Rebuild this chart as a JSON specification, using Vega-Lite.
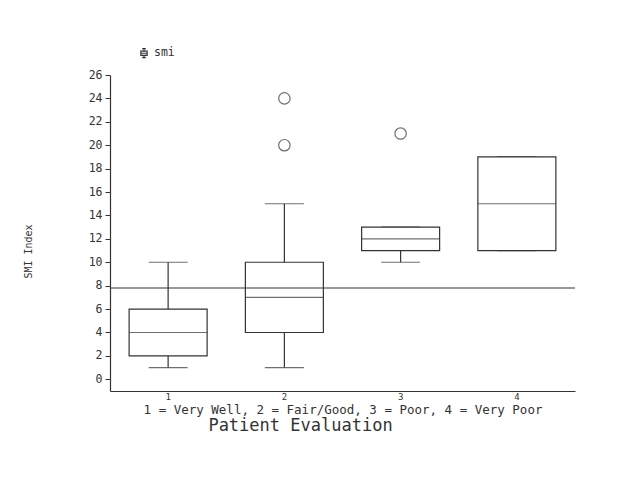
{
  "$schema": "https://vega.github.io/schema/vega-lite/v6.json",
  "autosize": {"type": "none"},
  "width": 465,
  "height": 316,
  "padding": {"left": 110, "top": 75, "right": 61, "bottom": 93},
  "background": "white",
  "config": {
    "view": {"stroke": null},
    "font": "DejaVu Sans Mono",
    "axis": {"labelFont": "DejaVu Sans Mono", "titleFont": "DejaVu Sans Mono", "labelColor": "#333", "titleColor": "#333", "domainColor": "#333", "tickColor": "#333", "grid": false, "titleFontWeight": "normal"},
    "axisY": {"labelOverlap": false, "labelSeparation": 0}
  },
  "title": {"text": "Patient Evaluation", "orient": "bottom", "font": "DejaVu Sans Mono", "fontSize": 17, "fontWeight": "normal", "color": "#333", "offset": 2, "dx": -42},
  "datasets": {
    "boxes": [
      {"group": "1", "lo": 1, "q1": 2, "med": 4, "q3": 6, "hi": 10},
      {"group": "2", "lo": 1, "q1": 4, "med": 7, "q3": 10, "hi": 15},
      {"group": "3", "lo": 10, "q1": 11, "med": 12, "q3": 13, "hi": 13},
      {"group": "4", "lo": 11, "q1": 11, "med": 15, "q3": 19, "hi": 19}
    ],
    "outliers": [
      {"group": "2", "value": 20},
      {"group": "2", "value": 24},
      {"group": "3", "value": 21}
    ]
  },
  "layer": [
    {
      "data": {"name": "boxes"},
      "mark": {"type": "rule", "color": "#333", "strokeWidth": 1.2},
      "encoding": {
        "x": {"field": "group", "type": "ordinal", "scale": {"type": "band", "domain": ["1", "2", "3", "4"], "paddingInner": 0, "paddingOuter": 0},
          "axis": {"title": "1 = Very Well, 2 = Fair/Good, 3 = Poor, 4 = Very Poor", "titleFontSize": 12.5, "labelFontSize": 9, "labelAngle": 0, "ticks": false, "labelPadding": 1, "titlePadding": 2, "domainWidth": 1.2}},
        "y": {"field": "lo", "type": "quantitative", "scale": {"domain": [-1, 26], "nice": false, "zero": false},
          "axis": {"title": "SMI Index", "values": [0, 2, 4, 6, 8, 10, 12, 14, 16, 18, 20, 22, 24, 26], "tickCount": 30, "labelOverlap": false, "labelFontSize": 11.5, "titleFontSize": 10, "tickSize": 5, "labelPadding": 3, "titleX": -77, "titleY": 176, "domainWidth": 1.2}},
        "y2": {"field": "hi"}
      }
    },
    {
      "data": {"name": "boxes"},
      "mark": {"type": "tick", "color": "#333", "size": 39, "thickness": 1.2},
      "encoding": {"x": {"field": "group", "type": "ordinal"}, "y": {"field": "lo", "type": "quantitative"}}
    },
    {
      "data": {"name": "boxes"},
      "mark": {"type": "tick", "color": "#333", "size": 39, "thickness": 1.2},
      "encoding": {"x": {"field": "group", "type": "ordinal"}, "y": {"field": "hi", "type": "quantitative"}}
    },
    {
      "data": {"name": "boxes"},
      "mark": {"type": "bar", "fill": "white", "width": 78, "strokeWidth": 1.2},
      "encoding": {
        "x": {"field": "group", "type": "ordinal"},
        "y": {"field": "q1", "type": "quantitative"},
        "y2": {"field": "q3"},
        "stroke": {"datum": "smi", "scale": {"domain": ["smi"], "range": ["#333"]},
          "legend": {"title": null, "orient": "none", "legendX": 28, "legendY": -28, "labelFont": "DejaVu Sans Mono", "labelFontSize": 11.5, "labelColor": "#333", "symbolSize": 110, "symbolStrokeWidth": 1.2, "symbolFillColor": "white",
            "symbolType": "M-0.6,-0.35H0.6V0.45H-0.6Z M-0.6,0.05H0.6 M0,-0.35V-0.85 M-0.35,-0.85H0.35 M0,0.45V0.9 M-0.35,0.9H0.35"}}
      }
    },
    {
      "data": {"name": "boxes"},
      "mark": {"type": "tick", "color": "#333", "size": 78, "thickness": 1.2},
      "encoding": {"x": {"field": "group", "type": "ordinal"}, "y": {"field": "med", "type": "quantitative"}}
    },
    {
      "data": {"name": "outliers"},
      "mark": {"type": "point", "shape": "circle", "filled": false, "color": "#333", "size": 130, "strokeWidth": 1.2},
      "encoding": {"x": {"field": "group", "type": "ordinal"}, "y": {"field": "value", "type": "quantitative"}}
    },
    {
      "data": {"values": [{}]},
      "mark": {"type": "rule", "color": "#333", "strokeWidth": 1.2},
      "encoding": {"y": {"datum": 7.8, "type": "quantitative"}}
    }
  ]
}
